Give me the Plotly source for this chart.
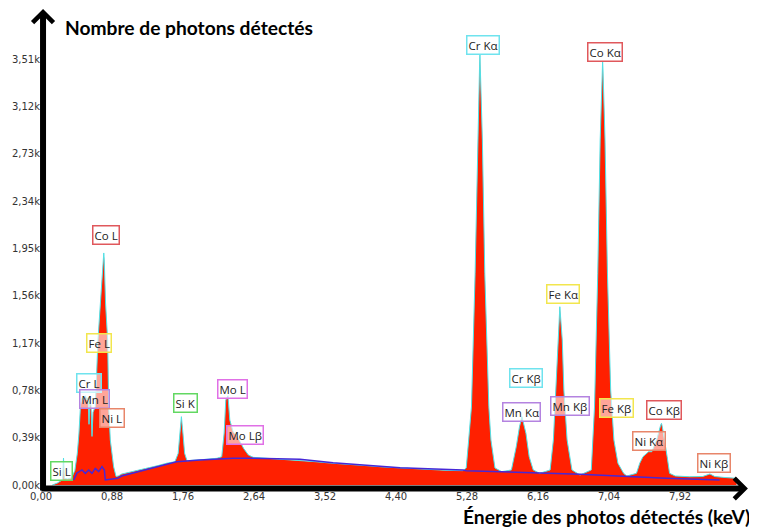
import plotly.graph_objects as go

# ---- spectrum (energy keV, counts) ----
energy_kev = [0.14, 0.20, 0.26, 0.268, 0.279, 0.290, 0.33, 0.38, 0.42, 0.45, 0.47, 0.49, 0.51, 0.53,
              0.55, 0.57, 0.585, 0.595, 0.605, 0.62, 0.632, 0.645, 0.673, 0.685, 0.706, 0.747,
              0.772, 0.778, 0.784, 0.80, 0.826, 0.839, 0.859, 0.90, 0.93, 0.96,
              1.00, 1.14, 1.30, 1.45, 1.56, 1.66, 1.70, 1.72, 1.74, 1.76, 1.78, 1.81, 1.89,
              2.05, 2.18, 2.24, 2.27, 2.29, 2.317, 2.34, 2.38, 2.445, 2.51, 2.57, 2.63,
              2.80, 3.00, 3.21, 3.40, 3.62, 3.80, 4.04, 4.25, 4.45, 4.65, 4.86, 5.05, 5.23,
              5.27, 5.30, 5.335, 5.38, 5.41, 5.435, 5.44, 5.445, 5.47, 5.50, 5.55, 5.576, 5.626, 5.71,
              5.83, 5.89, 5.93, 5.96, 6.01, 6.05, 6.10, 6.18,
              6.31, 6.35, 6.38, 6.41, 6.43, 6.46, 6.48, 6.52, 6.58, 6.68,
              6.82, 6.86, 6.90, 6.93, 6.955, 6.96, 6.965, 6.99, 7.02, 7.06, 7.10, 7.15, 7.22, 7.26,
              7.38, 7.42, 7.46, 7.53, 7.57, 7.63, 7.68, 7.69, 7.70, 7.73, 7.76, 7.79, 7.86,
              8.04, 8.20, 8.29, 8.35, 8.45, 8.62]
counts = [0, 15, 40, 50, 222, 55, 50, 60, 120, 260, 420, 660, 720, 700,
          735, 700, 720, 500, 690, 650, 400, 600, 645, 920, 1195, 1607,
          1855, 1912, 1855, 1500, 1195, 645, 370, 150, 70, 75,
          90, 110, 135, 160, 180, 192, 260, 420, 563, 420, 260, 200, 206,
          212, 220, 233, 428, 700, 735, 535, 440, 385, 302, 247, 228,
          220, 215, 206, 192, 179, 168, 159, 148, 140, 132, 124, 120, 118,
          140, 371, 645, 1744, 2843, 3450, 3543, 3450, 2843, 1744, 645, 371, 140, 110,
          124, 316, 480, 563, 426, 233, 124, 96,
          124, 371, 783, 1195, 1469, 1195, 783, 371, 124, 82,
          124, 645, 1744, 2843, 3420, 3488, 3420, 2843, 1744, 783, 371, 179, 96, 74,
          96, 179, 233, 274, 274, 371, 494, 508, 480, 371, 233, 96, 74,
          68, 70, 91, 70, 63, 55]

# ---- background fit (blue line) ----
bg_kev = [0.405, 0.446, 0.508, 0.549, 0.591, 0.632, 0.673, 0.715, 0.756, 0.785, 0.797, 0.95,
          1.00, 1.20, 1.50, 1.68, 1.97, 2.38, 2.63, 3.21, 3.62, 4.45, 5.23, 5.27, 6.68, 7.30,
          7.75, 8.41]
bg_counts = [41, 99, 124, 96, 124, 96, 137, 110, 151, 124, 41, 55,
             74, 110, 165, 192, 206, 220, 220, 212, 184, 143, 124, 118, 88, 68,
             55, 41]

# ---- tick labels ----
x_ticks = [0.00, 0.88, 1.76, 2.64, 3.52, 4.40, 5.28, 6.16, 7.04, 7.92]
x_ticktext = ["0,00", "0,88", "1,76", "2,64", "3,52", "4,40", "5,28", "6,16", "7,04", "7,92"]
y_ticks = [0, 390, 780, 1170, 1560, 1950, 2340, 2730, 3120, 3510]
y_ticktext = ["0,00k", "0,39k", "0,78k", "1,17k", "1,56k", "1,95k", "2,34k", "2,73k", "3,12k", "3,51k"]

# ---- peak labels ----
label_text = ["Co L", "Fe L", "Cr L", "Mn L", "Ni L", "Si L", "Si K", "Mo L", "Mo Lβ",
              "Cr Kα", "Co Kα", "Fe Kα", "Cr Kβ", "Mn Kα", "Mn Kβ", "Fe Kβ", "Co Kβ", "Ni Kα", "Ni Kβ"]
label_kev = [0.805, 0.722, 0.595, 0.657, 0.880, 0.248, 1.788, 2.370, 2.534,
             5.473, 6.995, 6.468, 6.014, 5.960, 6.559, 7.129, 7.726, 7.540, 8.336]
label_counts = [2064, 1174, 840, 705, 556, 115, 678, 793, 416,
                3626, 3564, 1574, 878, 604, 647, 636, 614, 364, 184]
label_element = ["Co", "Fe", "Cr", "Mn", "Ni", "Si", "Si", "Mo", "Mo",
                 "Cr", "Co", "Fe", "Cr", "Mn", "Mn", "Fe", "Co", "Ni", "Ni"]

element_color = {
    "Co": "#e0585c", "Fe": "#f2e64e", "Cr": "#6fe3ee", "Mn": "#b483e0",
    "Ni": "#e8866a", "Si": "#62d862", "Mo": "#e070e6",
}

fig = go.Figure()
fig.add_trace(go.Scatter(
    x=energy_kev, y=counts, mode="lines", fill="tozeroy",
    fillcolor="rgb(255,32,0)", line=dict(color="rgb(80,225,230)", width=1),
    hoverinfo="skip", showlegend=False))
fig.add_trace(go.Scatter(
    x=bg_kev, y=bg_counts, mode="lines",
    line=dict(color="rgb(70,40,215)", width=1.5),
    hoverinfo="skip", showlegend=False))

for t, xv, yv, el in zip(label_text, label_kev, label_counts, label_element):
    fig.add_annotation(
        x=xv, y=yv, xref="x", yref="y", text=t, showarrow=False,
        font=dict(family="Open Sans", size=11.5, color="#222"),
        bgcolor="rgba(255,255,255,0.6)", bordercolor=element_color[el],
        borderwidth=1.5, borderpad=1, xanchor="center", yanchor="middle")

# axis arrows
fig.add_annotation(xref="paper", yref="paper", x=0.0029, y=1.004, ax=0, ay=484,
                   text="", showarrow=True, arrowhead=4, arrowwidth=6, arrowsize=0.67,
                   arrowcolor="black")
fig.add_annotation(xref="paper", yref="paper", x=1.007, y=0.001, ax=-708, ay=0,
                   text="", showarrow=True, arrowhead=4, arrowwidth=6, arrowsize=0.67,
                   arrowcolor="black")

# axis titles
fig.add_annotation(xref="paper", yref="paper", x=0.0313, y=0.9645, xanchor="left",
                   yanchor="middle", text="<b>Nombre de photons détectés</b>", showarrow=False,
                   font=dict(family="Lato", size=19.2, color="black"))
fig.add_annotation(xref="paper", yref="paper", x=1.0128, y=-0.0564, xanchor="right",
                   yanchor="middle", text="<b>Énergie des photos détectés (keV)</b>",
                   showarrow=False, font=dict(family="Lato", size=19.2, color="black"))

# the page adds an 8 px body margin, so the figure is 8 px smaller each way
fig.update_layout(
    width=749, height=519,
    margin=dict(l=33, r=14, t=2, b=38),
    paper_bgcolor="white", plot_bgcolor="white",
    showlegend=False, hovermode=False,
    xaxis=dict(range=[0, 8.70], tickvals=x_ticks, ticktext=x_ticktext,
               showgrid=False, zeroline=False, showline=False, ticks="",
               tickfont=dict(family="DejaVu Sans", size=10, color="#333")),
    yaxis=dict(range=[-33, 3914], tickvals=y_ticks, ticktext=y_ticktext,
               showgrid=False, zeroline=False, showline=False, ticks="",
               tickfont=dict(family="DejaVu Sans", size=10, color="#333")),
)

fig.write_html("out.html")
